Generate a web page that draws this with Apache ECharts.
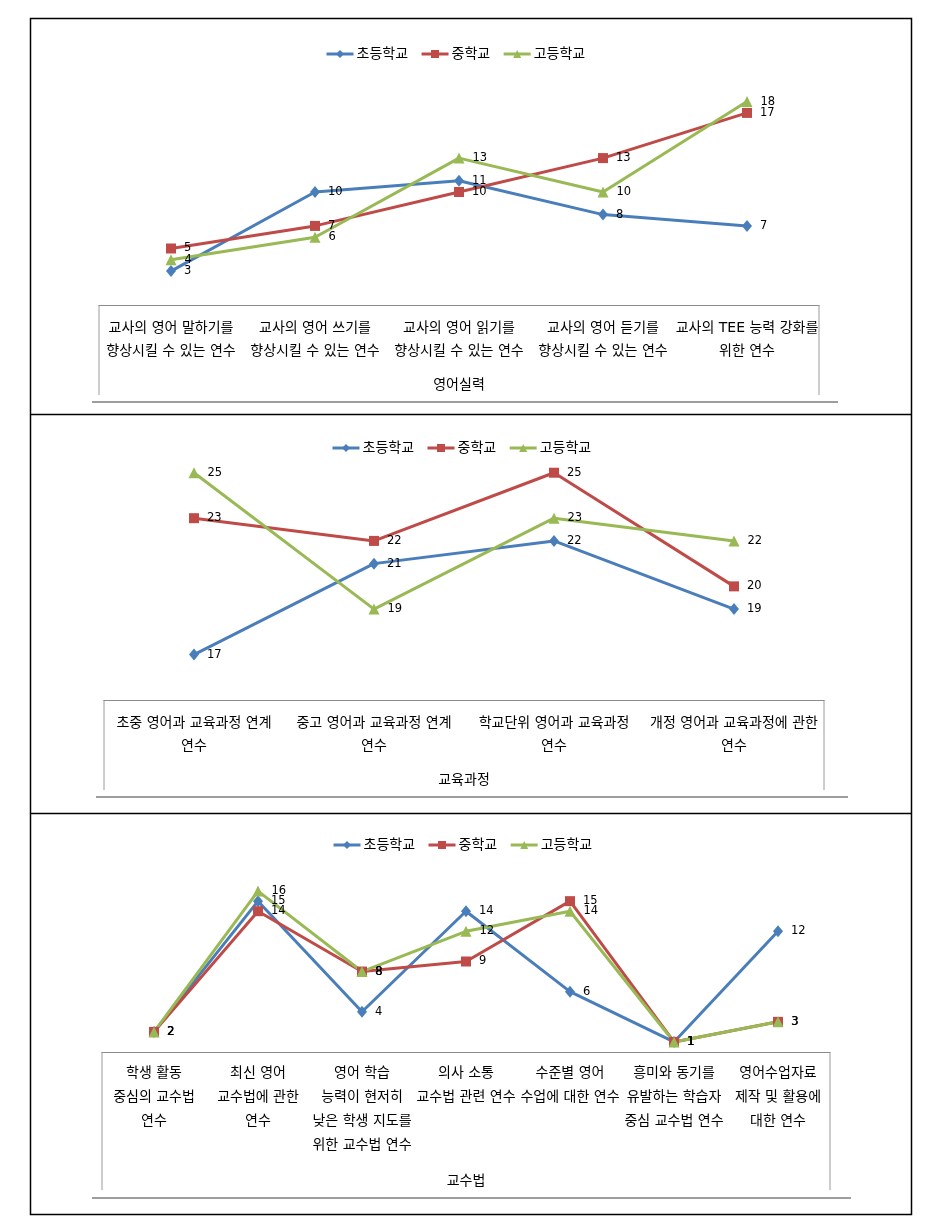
<!DOCTYPE html>
<html><head><meta charset="utf-8">
<script src="https://cdn.jsdelivr.net/npm/echarts@6/dist/echarts.min.js"></script>
<style>html,body{margin:0;padding:0;background:#fff}#c{width:941px;height:1222px}</style>
</head><body><div id="c"></div>
<script>
// ---- data ----
const seriesNames = ['초등학교', '중학교', '고등학교'];

const cats1 = ['교사의 영어 말하기를\n향상시킬 수 있는 연수', '교사의 영어 쓰기를\n향상시킬 수 있는 연수', '교사의 영어 읽기를\n향상시킬 수 있는 연수', '교사의 영어 듣기를\n향상시킬 수 있는 연수', '교사의 TEE 능력 강화를\n위한 연수'];
const elem1 = [3, 10, 11, 8, 7];
const mid1 = [5, 7, 10, 13, 17];
const high1 = [4, 6, 13, 10, 18];
const axisName1 = '영어실력';

const cats2 = ['초중 영어과 교육과정 연계\n연수', '중고 영어과 교육과정 연계\n연수', '학교단위 영어과 교육과정\n연수', '개정 영어과 교육과정에 관한\n연수'];
const elem2 = [17, 21, 22, 19];
const mid2 = [23, 22, 25, 20];
const high2 = [25, 19, 23, 22];
const axisName2 = '교육과정';

const cats3 = ['학생 활동\n중심의 교수법\n연수', '최신 영어\n교수법에 관한\n연수', '영어 학습\n능력이 현저히\n낮은 학생 지도를\n위한 교수법 연수', '의사 소통\n교수법 관련 연수', '수준별 영어\n수업에 대한 연수', '흥미와 동기를\n유발하는 학습자\n중심 교수법 연수', '영어수업자료\n제작 및 활용에\n대한 연수'];
const elem3 = [2, 15, 4, 14, 6, 1, 12];
const mid3 = [2, 14, 8, 9, 15, 1, 3];
const high3 = [2, 16, 8, 12, 14, 1, 3];
const axisName3 = '교수법';

// ---- layout / style ----
const FONT = "'DejaVu Sans', 'Noto Sans CJK KR', sans-serif";
const colors = ['#4A7EBB', '#BE4B48', '#98B954'];
const symbols = ['diamond', 'rect', 'triangle'];
const symbolSizes = [[10, 12], 10, 11];

const panels = [
  { cats: cats1, data: [elem1, mid1, high1], name: axisName1, left: 99, right: 819, top: 79, bottom: 305, min: 0, max: 20,
    legendTop: 42, legendLeft: 320, labelMargin: 12, lineHeight: 23, nameGap: 73, boxBottom: 395, lineY: 402, lineX: [92, 838] },
  { cats: cats2, data: [elem2, mid2, high2], name: axisName2, left: 104, right: 824, top: 450, bottom: 700, min: 15, max: 26,
    legendTop: 436, legendLeft: 326, labelMargin: 12, lineHeight: 23, nameGap: 73, boxBottom: 790, lineY: 797, lineX: [96, 848] },
  { cats: cats3, data: [elem3, mid3, high3], name: axisName3, left: 102, right: 830, top: 871, bottom: 1052, min: 0, max: 18,
    legendTop: 833, legendLeft: 327, labelMargin: 10, lineHeight: 23.7, nameGap: 122, boxBottom: 1190, lineY: 1198, lineX: [92, 851] }
];

const grid = [], xAxis = [], yAxis = [], series = [], legend = [], graphic = [];

panels.forEach((p, i) => {
  grid.push({ left: p.left, top: p.top, width: p.right - p.left, height: p.bottom - p.top, outerBoundsMode: 'none', containLabel: false });
  xAxis.push({
    type: 'category', gridIndex: i, data: p.cats, boundaryGap: true,
    axisLine: { show: true, lineStyle: { color: '#8c8c8c', width: 1 } },
    axisTick: { show: false },
    axisLabel: { interval: 0, margin: p.labelMargin, fontSize: 14, lineHeight: p.lineHeight, color: '#000', fontFamily: FONT, align: 'center' },
    name: p.name, nameLocation: 'middle', nameGap: p.nameGap,
    nameTextStyle: { fontSize: 14, color: '#000', fontFamily: FONT }
  });
  yAxis.push({
    type: 'value', gridIndex: i, min: p.min, max: p.max, show: false,
    splitLine: { show: false }
  });
  seriesNames.forEach((n, k) => {
    series.push({
      type: 'line', name: n, xAxisIndex: i, yAxisIndex: i, data: p.data[k],
      symbol: symbols[k], symbolSize: symbolSizes[k], showAllSymbol: true,
      color: colors[k],
      lineStyle: { width: 3, color: colors[k] },
      itemStyle: { color: colors[k] },
      label: { show: true, position: 'right', distance: 8, fontSize: 11.5, color: '#000', fontFamily: FONT },
      animation: false
    });
  });
  legend.push({
    top: p.legendTop, left: p.legendLeft, orient: 'horizontal',
    itemWidth: 27, itemHeight: 10, itemGap: 12,
    lineStyle: { width: 3 },
    textStyle: { fontSize: 14, color: '#000', fontFamily: FONT, padding: [0, 0, 0, -2] },
    data: seriesNames
  });
  // axis box sides and lower rule
  const top = p.bottom;
  graphic.push({ type: 'line', shape: { x1: p.left, y1: top, x2: p.left, y2: p.boxBottom }, style: { stroke: '#9a9a9a', lineWidth: 1 } });
  graphic.push({ type: 'line', shape: { x1: p.right, y1: top, x2: p.right, y2: p.boxBottom }, style: { stroke: '#9a9a9a', lineWidth: 1 } });
  graphic.push({ type: 'line', shape: { x1: p.lineX[0], y1: p.lineY, x2: p.lineX[1], y2: p.lineY }, style: { stroke: '#9d9d9d', lineWidth: 2 } });
});

// outer frame and dividers
graphic.push({ type: 'rect', shape: { x: 30.5, y: 18.5, width: 881, height: 1196 }, style: { fill: 'none', stroke: '#000', lineWidth: 1.5 } });
graphic.push({ type: 'line', shape: { x1: 30, y1: 414.5, x2: 911, y2: 414.5 }, style: { stroke: '#000', lineWidth: 1.5 } });
graphic.push({ type: 'line', shape: { x1: 30, y1: 813.5, x2: 911, y2: 813.5 }, style: { stroke: '#000', lineWidth: 1.5 } });

const chart = echarts.init(document.getElementById('c'), null, { renderer: 'canvas' });
chart.setOption({
  backgroundColor: '#fff',
  animation: false,
  grid, xAxis, yAxis, series, legend, graphic
});
</script>
</body></html>
